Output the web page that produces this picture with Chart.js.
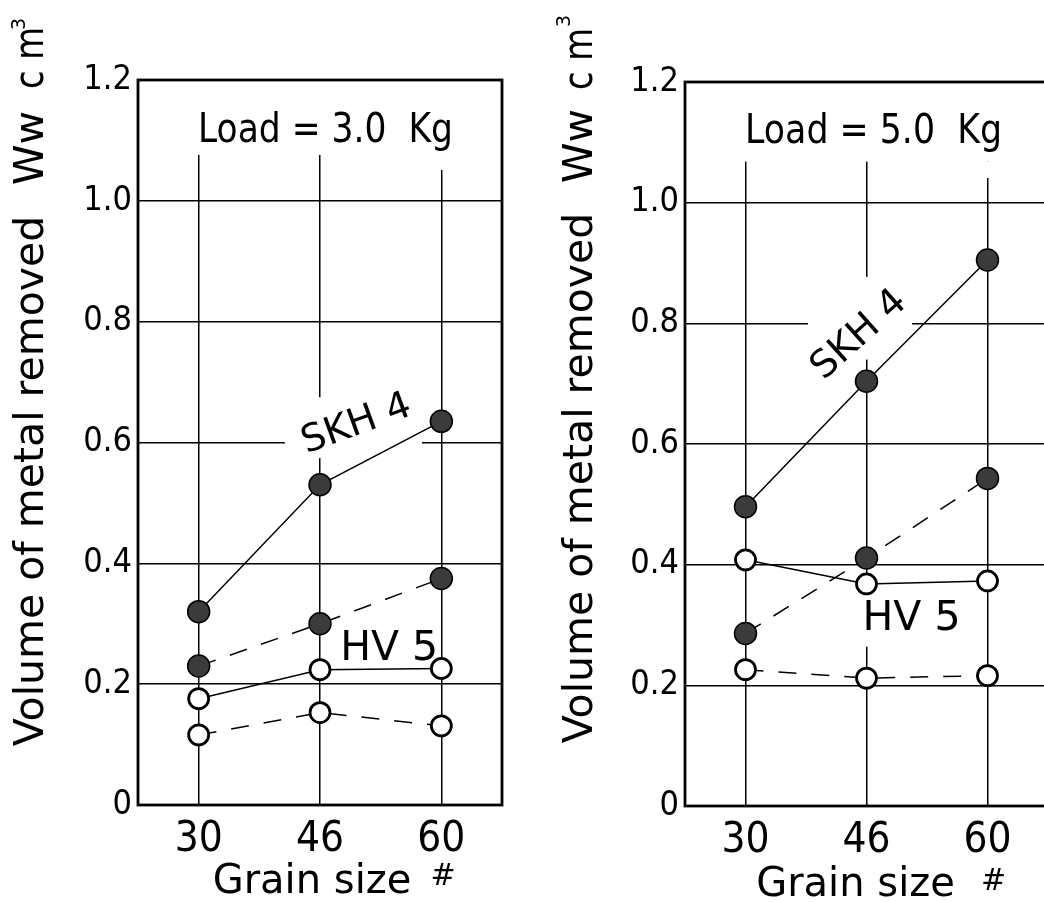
<!DOCTYPE html>
<html lang="en">
<head>
  <meta charset="UTF-8">
  <title>Volume of metal removed vs grain size</title>
  <style>
    html, body {
      margin: 0;
      padding: 0;
      background: #fff;
      overflow: hidden;
      width: 1044px;
      height: 902px;
    }
    .panel {
      position: absolute;
      top: 0;
    }
    #load3 { left: 0; }
    #load5 { left: 520px; }
  </style>
</head>
<body>

<canvas class="panel" id="load3" width="520" height="902"></canvas>
<canvas class="panel" id="load5" width="580" height="902"></canvas>

<script src="https://cdn.jsdelivr.net/npm/chart.js"></script>
<script>
  // Grain sizes on the x axis and the value labels of the y axis
  const grainSizes = ['30', '46', '60'];
  const yTickLabels = ['0', '0.2', '0.4', '0.6', '0.8', '1.0', '1.2'];

  // Load = 3.0 kg (filled = SKH 4, open = HV 5)
  const skhSolid3 = [0.32, 0.53, 0.635];
  const skhDashed3 = [0.23, 0.30, 0.375];
  const hvSolid3 = [0.176, 0.224, 0.226];
  const hvDashed3 = [0.116, 0.153, 0.131];

  // Load = 5.0 kg
  const skhSolid5 = [0.496, 0.704, 0.905];
  const skhDashed5 = [0.286, 0.411, 0.543];
  const hvSolid5 = [0.408, 0.368, 0.373];
  const hvDashed5 = [0.226, 0.212, 0.216];

  const TEXT_FONT = "'DejaVu Sans', sans-serif";
  const NUM_FONT = "'DejaVu Sans Condensed', 'DejaVu Sans', sans-serif";

  // Paints white patches over the grid (where the labels sit), the frame,
  // the in-plot labels and the axis titles.
  const panelDecor = {
    id: 'panelDecor',
    beforeDatasetsDraw(chart, args, o) {
      const ctx = chart.ctx;
      const xs = chart.scales.x, ys = chart.scales.y, a = chart.chartArea;
      ctx.save();
      ctx.fillStyle = '#fff';
      o.masks.forEach(m => {
        if (m.angle !== undefined) {
          ctx.save();
          ctx.translate(xs.getPixelForValue(m.x), ys.getPixelForValue(m.y));
          ctx.rotate(m.angle * Math.PI / 180);
          ctx.fillRect(-m.w / 2, -m.h / 2, m.w, m.h);
          ctx.restore();
        } else {
          const x0 = xs.getPixelForValue(m.x0), x1 = xs.getPixelForValue(m.x1);
          const y0 = ys.getPixelForValue(m.y0), y1 = ys.getPixelForValue(m.y1);
          ctx.fillRect(Math.min(x0, x1), Math.min(y0, y1), Math.abs(x1 - x0), Math.abs(y1 - y0));
        }
      });
      ctx.strokeStyle = '#000';
      ctx.lineWidth = 2.8;
      ctx.strokeRect(a.left, a.top, a.right - a.left, a.bottom - a.top);
      ctx.restore();
    },
    afterDatasetsDraw(chart, args, o) {
      const ctx = chart.ctx;
      const xs = chart.scales.x, ys = chart.scales.y, a = chart.chartArea;
      ctx.save();
      ctx.fillStyle = '#000';
      ctx.textAlign = 'center';
      ctx.textBaseline = 'alphabetic';

      o.labels.forEach(l => {
        ctx.save();
        ctx.font = l.size + 'px ' + TEXT_FONT;
        ctx.translate(xs.getPixelForValue(l.x), ys.getPixelForValue(l.y));
        ctx.rotate((l.angle || 0) * Math.PI / 180);
        if (l.maxWidth) ctx.fillText(l.text, 0, 0, l.maxWidth);
        else ctx.fillText(l.text, 0, 0);
        ctx.restore();
      });

      // y axis title, read bottom to top
      o.yTitle.forEach(t => {
        ctx.save();
        ctx.font = t.size + 'px ' + TEXT_FONT;
        ctx.translate(a.left + t.dx, a.top + t.dy);
        ctx.rotate(-Math.PI / 2);
        if (t.maxWidth) ctx.fillText(t.text, 0, 0, t.maxWidth);
        else ctx.fillText(t.text, 0, 0);
        ctx.restore();
      });

      // x axis title
      const cx = (a.left + a.right) / 2;
      o.xTitle.forEach(t => {
        ctx.font = t.size + 'px ' + TEXT_FONT;
        if (t.maxWidth) ctx.fillText(t.text, cx + t.dx, a.bottom + t.dy, t.maxWidth);
        else ctx.fillText(t.text, cx + t.dx, a.bottom + t.dy);
      });
      ctx.restore();
    }
  };

  function series(values, filled, dashed) {
    return {
      data: values,
      borderColor: '#000',
      borderWidth: 1.5,
      borderDash: dashed ? [18, 15] : [],
      tension: 0,
      fill: false,
      pointRadius: filled ? 11 : 10,
      pointBackgroundColor: filled ? '#3b3b3b' : '#fff',
      pointBorderColor: '#000',
      pointBorderWidth: filled ? 1.5 : 2.8
    };
  }

  function buildPanel(id, p) {
    return new Chart(document.getElementById(id), {
      type: 'line',
      data: {
        labels: grainSizes,
        datasets: [
          series(p.skhSolid, true, false),
          series(p.skhDashed, true, true),
          series(p.hvSolid, false, false),
          series(p.hvDashed, false, true)
        ]
      },
      options: {
        responsive: false,
        animation: false,
        devicePixelRatio: 1,
        layout: { padding: { top: p.top, right: p.right, left: 0, bottom: 0 } },
        plugins: {
          legend: { display: false },
          tooltip: { enabled: false },
          panelDecor: { masks: p.masks, labels: p.labels, yTitle: p.yTitle, xTitle: p.xTitle }
        },
        scales: {
          x: {
            type: 'category',
            offset: true,
            grid: { offset: false, color: '#000', lineWidth: 1.5, drawTicks: false },
            border: { display: false },
            ticks: { color: '#000', padding: 10, font: { family: NUM_FONT, size: 42 } },
            afterFit(s) { s.height = p.xAxisHeight; }
          },
          y: {
            min: 0,
            max: 1.2,
            grid: { color: '#000', lineWidth: 1.5, drawTicks: false },
            border: { display: false },
            ticks: {
              stepSize: 0.2,
              color: '#000',
              padding: 6,
              font: { family: NUM_FONT, size: 34 },
              callback: (v, i) => yTickLabels[i]
            },
            afterFit(s) { s.width = p.yAxisWidth; }
          }
        }
      },
      plugins: [panelDecor]
    });
  }

  buildPanel('load3', {
    skhSolid: skhSolid3, skhDashed: skhDashed3, hvSolid: hvSolid3, hvDashed: hvDashed3,
    top: 80, right: 18, yAxisWidth: 138, xAxisHeight: 97,
    masks: [
      { x0: -0.5, x1: 2.5, y0: 1.2, y1: 1.076 },
      { x0: 1.9, x1: 2.1, y0: 1.076, y1: 1.051 },
      { x: 1.29, y: 0.636, w: 140, h: 46, angle: -20 },
      { x0: 0.71, x1: 1.84, y0: 0.59, y1: 0.61 },
      { x0: 0.95, x1: 1.05, y0: 0.588, y1: 0.675 }
    ],
    labels: [
      { text: 'Load = 3.0  Kg', x: 1.045, y: 1.098, size: 40, maxWidth: 255 },
      { text: 'SKH 4', x: 1.33, y: 0.614, size: 38, angle: -20 },
      { text: 'HV 5', x: 1.57, y: 0.240, size: 41 }
    ],
    yTitle: [
      { text: 'Volume of metal removed', dx: -95, dy: 401, size: 41, maxWidth: 533 },
      { text: 'Ww', dx: -95, dy: 68, size: 41 },
      { text: 'c m', dx: -95, dy: -22, size: 41, maxWidth: 62 },
      { text: '3', dx: -113, dy: -56, size: 19 }
    ],
    xTitle: [
      { text: 'Grain size', dx: -8, dy: 88, size: 40, maxWidth: 230 },
      { text: '#', dx: 123, dy: 80, size: 30 }
    ]
  });

  buildPanel('load5', {
    skhSolid: skhSolid5, skhDashed: skhDashed5, hvSolid: hvSolid5, hvDashed: hvDashed5,
    top: 82, right: 52, yAxisWidth: 165, xAxisHeight: 96,
    masks: [
      { x0: -0.5, x1: 2.5, y0: 1.2, y1: 1.068 },
      { x0: 1.9, x1: 2.1, y0: 1.068, y1: 1.041 },
      { x: 0.918, y: 0.785, w: 140, h: 46, angle: -42 },
      { x0: 0.517, x1: 1.376, y0: 0.79, y1: 0.81 },
      { x0: 0.95, x1: 1.05, y0: 0.74, y1: 0.877 },
      { x0: 0.95, x1: 1.05, y0: 0.264, y1: 0.358 }
    ],
    labels: [
      { text: 'Load = 5.0  Kg', x: 1.058, y: 1.0995, size: 40, maxWidth: 257 },
      { text: 'SKH 4', x: 0.996, y: 0.768, size: 38, angle: -42 },
      { text: 'HV 5', x: 1.372, y: 0.292, size: 41 }
    ],
    yTitle: [
      { text: 'Volume of metal removed', dx: -93, dy: 396, size: 41, maxWidth: 550 },
      { text: 'Ww', dx: -93, dy: 64, size: 41 },
      { text: 'c m', dx: -93, dy: -23, size: 41, maxWidth: 62 },
      { text: '3', dx: -115, dy: -61, size: 19 }
    ],
    xTitle: [
      { text: 'Grain size', dx: -11, dy: 90, size: 40, maxWidth: 213 },
      { text: '#', dx: 127, dy: 84, size: 30 }
    ]
  });
</script>

</body>
</html>
